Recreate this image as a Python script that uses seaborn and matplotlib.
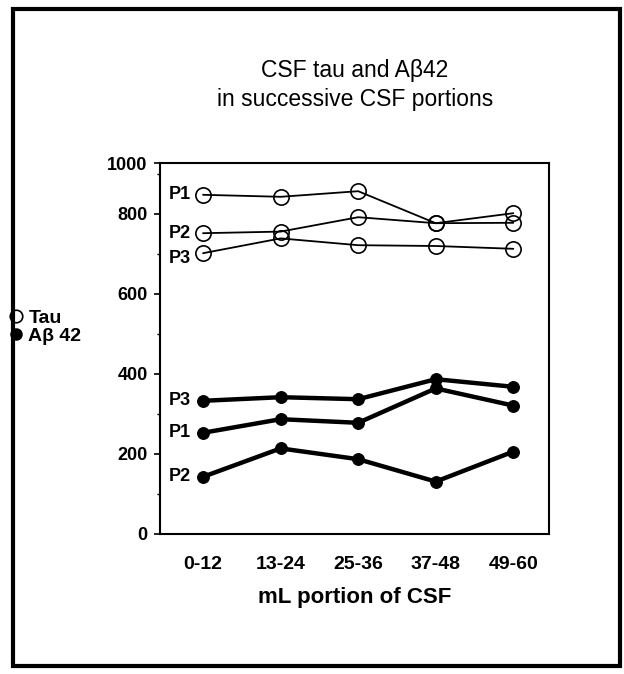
import matplotlib
matplotlib.use("Agg")
import matplotlib.pyplot as plt
import seaborn as sns
import pandas as pd
from matplotlib.lines import Line2D
from matplotlib.patches import Rectangle
from matplotlib.ticker import FixedLocator

# ---- data ----
portions = ["0-12", "13-24", "25-36", "37-48", "49-60"]
patients = ["P1", "P2", "P3"]
tau_p1 = [848, 843, 857, 777, 802]
tau_p2 = [752, 756, 792, 777, 778]
tau_p3 = [702, 739, 722, 720, 713]
ab_p1 = [253, 287, 278, 364, 321]
ab_p2 = [143, 214, 187, 131, 206]
ab_p3 = [333, 342, 337, 387, 368]
y_tick_labels = ["0", "200", "400", "600", "800", "1000"]

def long_df(series):
    rows = []
    for pat, vals in zip(patients, series):
        for por, v in zip(portions, vals):
            rows.append({"portion": por, "patient": pat, "value": v})
    return pd.DataFrame(rows)

df_tau = long_df([tau_p1, tau_p2, tau_p3])
df_ab = long_df([ab_p1, ab_p2, ab_p3])

sns.set_theme(style="white")
plt.rcParams["font.family"] = ["Liberation Sans", "DejaVu Sans"]
plt.rcParams.update({"text.color": "black", "axes.labelcolor": "black",
                     "xtick.color": "black", "ytick.color": "black"})

fig = plt.figure(figsize=(6.24, 6.74), dpi=100)
ax_top_px, ax_bot_px = 163, 534
ax = fig.add_axes([160 / 624, 1 - ax_bot_px / 674, (549 - 160) / 624,
                   (ax_bot_px - ax_top_px) / 674])

sns.lineplot(data=df_tau, x="portion", y="value", units="patient", estimator=None,
             sort=False, color="black", lw=1.3, marker="o", markersize=11,
             markerfacecolor="none", markeredgecolor="black", markeredgewidth=1.2,
             ax=ax)
sns.lineplot(data=df_ab, x="portion", y="value", units="patient", estimator=None,
             sort=False, color="black", lw=3.2, marker="o", markersize=8.5,
             markerfacecolor="black", markeredgecolor="black", ax=ax)

# the original axis is linear up to 800 (0.4 px per unit) and its top edge carries the "1000" label
ymax = (ax_bot_px - ax_top_px) / 0.4
ax.set_xlim(-0.555, 4.46)
ax.set_ylim(0, ymax)
ax.set_yticks([0, 200, 400, 600, 800, ymax])
ax.set_yticklabels(y_tick_labels)
ax.yaxis.set_minor_locator(FixedLocator([100, 300, 500, 700, 900]))
ax.tick_params(axis="y", which="major", direction="out", length=4, width=1.2,
               pad=5, labelsize=13, left=True, color="black", labelcolor="black")
ax.tick_params(axis="y", which="minor", direction="out", length=2, width=1,
               left=True, color="black")
ax.tick_params(axis="x", length=0, pad=16, labelsize=14, labelcolor="black")
for lab in ax.get_xticklabels() + ax.get_yticklabels():
    lab.set_fontweight("bold")
ax.set_ylabel("")
ax.set_xlabel("mL portion of CSF", fontsize=16, fontweight="bold", labelpad=10,
              color="black")
for s in ax.spines.values():
    s.set_color("black")
    s.set_linewidth(1.5)

fig.text(355 / 624, 1 - 85 / 674, "CSF tau and A\u03b242\nin successive CSF portions",
         ha="center", va="center", fontsize=16.5, linespacing=1.3, color="black")

# patient labels at first portion
for pat, v in zip(patients, [tau_p1[0], tau_p2[0], tau_p3[0]]):
    dy = -4 if pat == "P3" else 0
    ax.annotate(pat, xy=(0, v), xytext=(-9, dy), textcoords="offset points",
                ha="right", va="center", fontsize=13, fontweight="bold",
                color="black")
for pat, v in zip(patients, [ab_p1[0], ab_p2[0], ab_p3[0]]):
    ax.annotate(pat, xy=(0, v), xytext=(-9, 0), textcoords="offset points",
                ha="right", va="center", fontsize=13, fontweight="bold",
                color="black")

handles = [
    Line2D([], [], ls="none", marker="o", markersize=9, markerfacecolor="none",
           markeredgecolor="black", markeredgewidth=1.2),
    Line2D([], [], ls="none", marker="o", markersize=8, markerfacecolor="black",
           markeredgecolor="black"),
]
leg = fig.legend(handles, ["Tau", "A\u03b2 42"], loc="center left",
                 bbox_to_anchor=(8 / 624, 1 - 327 / 674), frameon=False,
                 prop={"weight": "bold", "size": 14}, handlelength=0.8,
                 handletextpad=0.25, borderpad=0, borderaxespad=0,
                 labelspacing=0.05)
for t in leg.get_texts():
    t.set_color("black")

# outer frame
fig.patches.append(Rectangle((13 / 624, 1 - 666 / 674), (620 - 13) / 624,
                             (666 - 9) / 674, transform=fig.transFigure,
                             fill=False, edgecolor="black", linewidth=3))

fig.savefig("out.png", dpi=100)
